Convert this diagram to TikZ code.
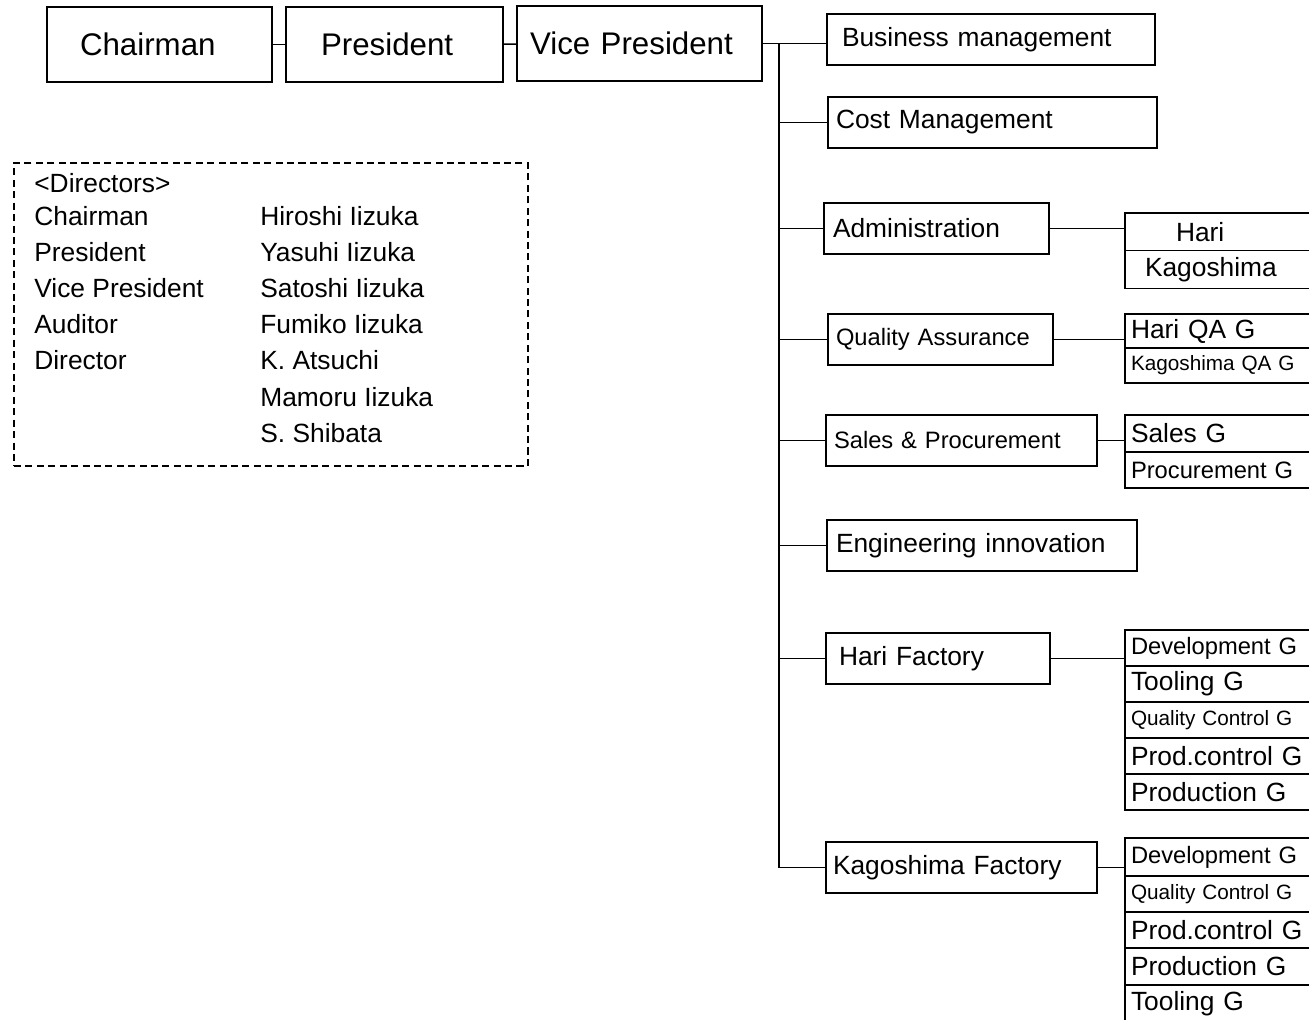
\documentclass[tikz,border=0pt]{standalone}
\usepackage{fontspec}
\setmainfont{Liberation Sans}
\usepackage{tikz}
\usetikzlibrary{positioning}
\pgfdeclarelayer{edgelayer}
\pgfdeclarelayer{nodelayer}
\pgfsetlayers{edgelayer,nodelayer,main}
\tikzset{
	fbig/.style={font=\fontsize{17.8}{21}\selectfont},
	fmid/.style={font=\fontsize{15}{18}\selectfont},
	fsm/.style={font=\fontsize{13.5}{16}\selectfont},
	ftiny/.style={font=\fontsize{11.8}{14}\selectfont},
	head/.style={draw, line width=1.4pt, outer sep=0pt, minimum height=1.5cm, align=left, fbig},
	dept/.style={draw, line width=0.85pt, anchor=north west, outer sep=0pt, inner ysep=0pt,
		inner xsep=0.16cm, minimum height=1.02cm, align=left, fmid},
	grp/.style={draw, line width=0.85pt, anchor=north west, outer sep=0pt, inner ysep=0pt,
		inner xsep=0.12cm, text width=3.76cm, minimum height=0.72cm, align=left, fmid},
	link/.style={line width=0.85pt}
}
\begin{document}
\begin{tikzpicture}[x=0.02cm, y=-0.02cm]
	\useasboundingbox (0,0) rectangle (1309,1019);
	\begin{pgfonlayer}{nodelayer}
		\node[head, inner xsep=0.66cm, text width=3.18cm] (chair) at (159.5,44.5) {Chairman};
		\node[head, inner xsep=0.7cm, text width=2.94cm] (pres) at (394.5,44.5) {President};
		\node[head, inner xsep=0.26cm, text width=4.38cm] (vp) at (639.5,43.5) {Vice President};

		\node[dept, inner xsep=0.3cm, text width=5.96cm] (biz) at (827,14) {Business management};
		\node[dept, text width=6.26cm] (cost) at (828,97) {Cost Management};
		\node[dept, inner xsep=0.18cm, text width=4.14cm] (adm) at (824,203) {Administration};
		\node[dept, fsm, text width=4.18cm] (qa) at (828,314) {Quality Assurance};
		\node[dept, fsm, text width=5.10cm] (sp) at (826,415) {Sales \& Procurement};
		\node[dept, inner xsep=0.18cm, text width=5.84cm] (eng) at (827,520) {Engineering innovation};
		\node[dept, inner xsep=0.26cm, text width=3.96cm] (hf) at (826,633) {Hari Factory};
		\node[dept, inner xsep=0.14cm, text width=5.14cm] (kf) at (826,842) {Kagoshima Factory};

		% groups under Administration
		\node[grp, minimum height=0.75cm] (adm1) at (1125,213) {\hspace*{0.9cm}Hari};
		\node[grp, minimum height=0.76cm, below=0pt of adm1] (adm2) {\hspace*{0.28cm}Kagoshima};
		% groups under Quality Assurance
		\node[grp, minimum height=0.68cm] (qa1) at (1125,314) {Hari QA G};
		\node[grp, ftiny, minimum height=0.70cm, below=0pt of qa1] (qa2) {Kagoshima QA G};
		% groups under Sales & Procurement
		\node[grp, minimum height=0.74cm] (sp1) at (1125,415) {Sales G};
		\node[grp, fsm, minimum height=0.72cm, below=0pt of sp1] (sp2) {Procurement G};
		% groups under Hari Factory
		\node[grp, fsm] (hf1) at (1125,630) {Development G};
		\node[grp, below=0pt of hf1] (hf2) {Tooling G};
		\node[grp, ftiny, below=0pt of hf2] (hf3) {Quality Control G};
		\node[grp, below=0pt of hf3] (hf4) {Prod.control G};
		\node[grp, below=0pt of hf4] (hf5) {Production G};
		% groups under Kagoshima Factory
		\node[grp, fsm, minimum height=0.76cm] (kf1) at (1125,838) {Development G};
		\node[grp, ftiny, below=0pt of kf1] (kf2) {Quality Control G};
		\node[grp, below=0pt of kf2] (kf3) {Prod.control G};
		\node[grp, minimum height=0.74cm, below=0pt of kf3] (kf4) {Production G};
		\node[grp, minimum height=0.74cm, below=0pt of kf4] (kf5) {Tooling G};

		% directors
		\node[draw, dashed, dash pattern=on 4pt off 2.5pt, line width=1.1pt, anchor=north west,
			outer sep=0pt, minimum width=10.28cm, minimum height=6.06cm] (dirs) at (14,163) {};
		\node[fmid, anchor=base west, inner sep=0pt] (dhead) at (34,192.5) {<Directors>};
		\foreach \i/\post/\who in {1/Chairman/Hiroshi Iizuka, 2/President/Yasuhi Iizuka,
			3/Vice President/Satoshi Iizuka, 4/Auditor/Fumiko Iizuka, 5/Director/K. Atsuchi,
			6//Mamoru Iizuka, 7//S. Shibata} {
			\node[fmid, anchor=base west, inner sep=0pt] (post\i) at (34,{225.5+36.1*(\i-1)}) {\post};
			\node[fmid, anchor=base west, inner sep=0pt] (who\i) at (260,{225.5+36.1*(\i-1)}) {\who};
		}
	\end{pgfonlayer}
	\begin{pgfonlayer}{edgelayer}
		\coordinate (trunk) at (779,43.5);
		\draw[link] (chair) to (pres);
		\draw[link] (pres) to (vp);
		\draw[link] (vp.east) to (vp.east -| biz.west);
		\draw[link] (trunk) to (trunk |- kf.west);
		\draw[link] (trunk |- cost.west) to (cost.west);
		\draw[link] (trunk |- adm.west) to (adm.west);
		\draw[link] (trunk |- qa.west) to (qa.west);
		\draw[link] (trunk |- sp.west) to (sp.west);
		\draw[link] (trunk |- eng.west) to (eng.west);
		\draw[link] (trunk |- hf.west) to (hf.west);
		\draw[link] (trunk |- kf.west) to (kf.west);
		\draw[link] (adm.east) to (adm.east -| adm1.west);
		\draw[link] (qa.east) to (qa.east -| qa1.west);
		\draw[link] (sp.east) to (sp.east -| sp1.west);
		\draw[link] (hf.east) to (hf.east -| hf1.west);
		\draw[link] (kf.east) to (kf.east -| kf1.west);
	\end{pgfonlayer}
\end{tikzpicture}
\end{document}
